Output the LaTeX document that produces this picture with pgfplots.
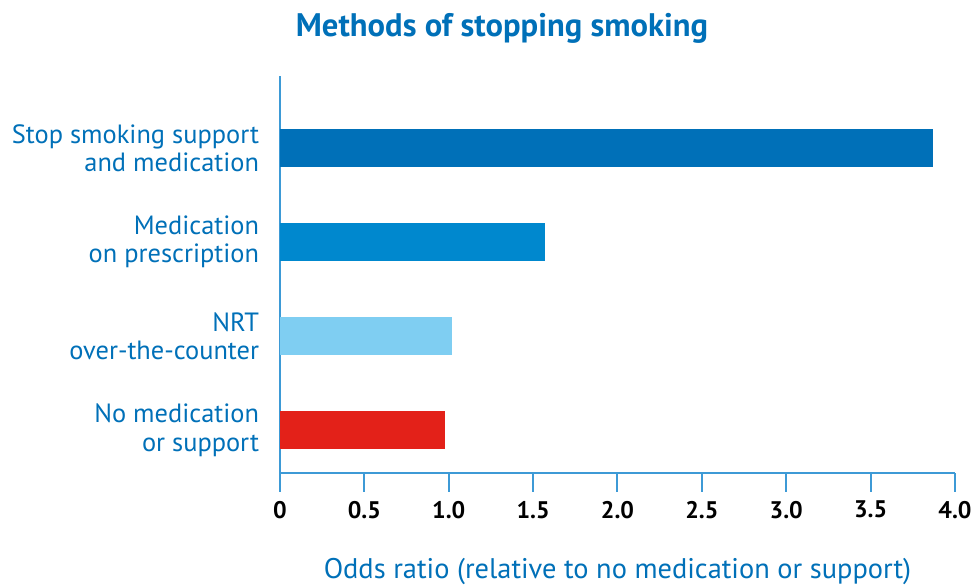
\documentclass[border=0pt]{standalone}
\usepackage{fontspec}
\setmainfont{PT Sans}
\usepackage{pgfplots}
\pgfplotsset{compat=1.18}
\definecolor{txtblue}{RGB}{0,112,184}
\definecolor{lineblue}{RGB}{61,154,214}
\definecolor{cA}{RGB}{0,112,184}
\definecolor{cB}{RGB}{0,136,206}
\definecolor{cC}{RGB}{127,206,242}
\definecolor{cD}{RGB}{227,33,25}
\begin{document}
\begin{tikzpicture}
\useasboundingbox (-140pt,-56.35pt) rectangle (348pt,236.65pt);
\begin{axis}[
  at={(0,0)}, anchor=south west,
  scale only axis,
  width=337.5pt, height=198.8pt,
  xmin=0, xmax=4, ymin=-0.46, ymax=3.77,
  axis x line*=bottom, axis y line*=left,
  axis line style={draw=lineblue, line width=1pt},
  xtick={0,0.5,1,1.5,2,2.5,3,3.5,4},
  xticklabels={0,0.5,1.0,1.5,2.0,2.5,3.0,3.5,4.0},
  xtick pos=bottom,
  tick align=outside,
  major tick length=9.3pt,
  xtick style={draw=lineblue, line width=1pt},
  ytick style={draw=none},
  xticklabel style={font=\fontsize{12}{14}\selectfont\bfseries, text=black, inner sep=0pt, yshift=-4.4pt},
  /pgf/number format/assume math mode=true,
  ytick={0,1,2,3},
  yticklabels={{No medication\\or support},{NRT\\over-the-counter},{Medication\\on prescription},{Stop smoking support\\and medication}},
  yticklabel style={align=right, font=\fontsize{13.2}{14.2}\selectfont, text=txtblue, inner sep=0pt, xshift=-1pt},
  xlabel={Odds ratio (relative to no medication or support)},
  xlabel style={at={(axis description cs:0.5,0)}, anchor=center, yshift=-49pt, font=\fontsize{14.2}{16}\selectfont, text=txtblue},
  clip=false,
]
\addplot[xbar, bar width=19pt, bar shift=0pt, fill=cD, draw=none] coordinates {(0.98,0)};
\addplot[xbar, bar width=19pt, bar shift=0pt, fill=cC, draw=none] coordinates {(1.02,1)};
\addplot[xbar, bar width=19pt, bar shift=0pt, fill=cB, draw=none] coordinates {(1.57,2)};
\addplot[xbar, bar width=19pt, bar shift=0pt, fill=cA, draw=none] coordinates {(3.87,3)};
\end{axis}
\node[font=\fontsize{16.3}{18}\selectfont\bfseries, text=txtblue] at (111pt,222.5pt) {Methods of stopping smoking};
\end{tikzpicture}
\end{document}
